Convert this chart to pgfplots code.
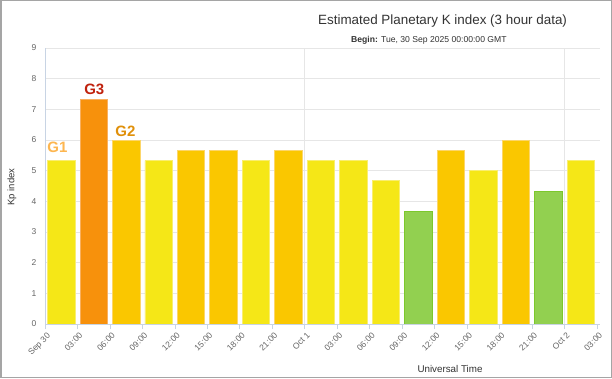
\documentclass[border=0pt]{standalone}
\usepackage{pgfplots}
\pgfplotsset{compat=1.18}
\usepackage{fontspec}
\setmainfont{Liberation Sans}
\definecolor{kyel}{HTML}{F5E717}
\definecolor{kamb}{HTML}{FAC700}
\definecolor{kora}{HTML}{F7910C}
\definecolor{kgrn}{HTML}{92D050}
\definecolor{kyelb}{HTML}{F9EE70}
\definecolor{kambb}{HTML}{FCD66A}
\definecolor{korab}{HTML}{F9B060}
\definecolor{kgrnb}{HTML}{7CC82C}
\definecolor{gridc}{HTML}{E6E6E6}
\definecolor{axisc}{HTML}{C8D4E4}
\definecolor{labc}{HTML}{666666}
\definecolor{titc}{HTML}{333333}
\definecolor{gone}{HTML}{FDB650}
\definecolor{gtwo}{HTML}{E0900A}
\definecolor{gthree}{HTML}{C0220E}
\begin{document}
\begin{tikzpicture}[x=1pt,y=1pt]
\useasboundingbox (0,0) rectangle (612,378);
\fill[white] (0,0) rectangle (612,378);
\begin{axis}[
  at={(45pt,54pt)}, anchor=south west,
  scale only axis, width=555pt, height=276pt,
  xmin=0, xmax=17.09, ymin=0, ymax=9,
  axis line style={draw=none},
  ybar, bar width=27.5pt,
  ymajorgrids, grid style={gridc, line width=0.8pt},
  ytick={0,...,9},
  xtick={0,...,17},
  xticklabels={Sep 30,03:00,06:00,09:00,12:00,15:00,18:00,21:00,Oct 1,03:00,06:00,09:00,12:00,15:00,18:00,21:00,Oct 2,03:00},
  xtick pos=bottom, xtick align=outside, ytick style={draw=none},
  major tick length=5pt,
  xtick style={axisc, line width=0.8pt},
  /pgf/number format/assume math mode=true,
  yticklabel style={font=\fontsize{8.5}{10}\selectfont, text=labc, xshift=-5pt},
  xticklabel style={font=\fontsize{8.5}{10}\selectfont, text=labc, rotate=45, anchor=north east, inner sep=1pt, yshift=-2pt},
  clip=false,
]
\draw[gridc, line width=0.8pt] (axis cs:8,0) -- (axis cs:8,9);
\draw[gridc, line width=0.8pt] (axis cs:16,0) -- (axis cs:16,9);
\addplot[bar shift=0pt, fill=kyel, draw=kyelb, line width=0.8pt] coordinates {(0.5,5.33) (3.5,5.33) (6.5,5.33) (8.5,5.33) (9.5,5.33) (10.5,4.67) (13.5,5) (16.5,5.33)};
\addplot[bar shift=0pt, fill=kamb, draw=kambb, line width=0.8pt] coordinates {(2.5,6) (4.5,5.67) (5.5,5.67) (7.5,5.67) (12.5,5.67) (14.5,6)};
\addplot[bar shift=0pt, fill=kora, draw=korab, line width=0.8pt] coordinates {(1.5,7.33)};
\addplot[bar shift=0pt, fill=kgrn, draw=kgrnb, line width=0.8pt] coordinates {(11.5,3.67) (15.5,4.33)};
\draw[axisc, line width=0.8pt] (axis cs:0,0) -- (axis cs:0,9);
\draw[axisc, line width=0.8pt] (axis cs:0,0) -- (axis cs:17.09,0);
\end{axis}
\draw[color={rgb,255:red,165;green,165;blue,165}, line width=1.5pt] (0.75,0.75) rectangle (611.25,377.25);
\node[anchor=base west, inner sep=0pt, text=titc, font=\fontsize{13.4}{15}\selectfont] at (318,353.5) {Estimated Planetary K index (3 hour data)};
\node[anchor=base west, inner sep=0pt, text=titc, font=\fontsize{8.6}{10}\selectfont] at (351,335) {\textbf{Begin:} Tue, 30 Sep 2025 00:00:00 GMT};
\node[rotate=90, inner sep=0pt, text=titc, font=\fontsize{9.5}{11}\selectfont] at (12,191) {Kp index};
\node[inner sep=0pt, text=titc, font=\fontsize{9.8}{11}\selectfont] at (450,9.5) {Universal Time};
\node[inner sep=0pt, text=gone, font=\bfseries\fontsize{15}{17}\selectfont] at (57.5,230.5) {G1};
\node[inner sep=0pt, text=gthree, font=\bfseries\fontsize{15}{17}\selectfont] at (94.3,289) {G3};
\node[inner sep=0pt, text=gtwo, font=\bfseries\fontsize{15}{17}\selectfont] at (125.5,246.3) {G2};
\end{tikzpicture}
\end{document}
